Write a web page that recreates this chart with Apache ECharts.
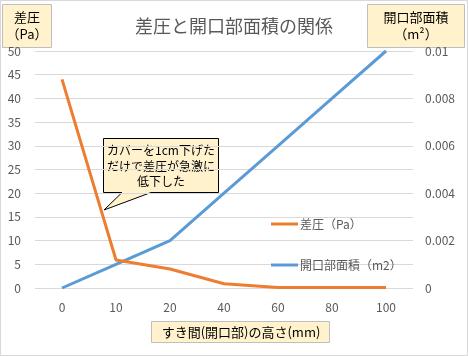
<!DOCTYPE html>
<html><head><meta charset="utf-8">
<script src="https://cdn.jsdelivr.net/npm/echarts@6/dist/echarts.min.js"></script>
<style>html,body{margin:0;padding:0;background:#fff}#c{width:468px;height:356px;box-sizing:border-box;border:1px solid #d9d9d9}</style>
</head><body><div id="c"></div>
<script>
const categories = ['0','10','20','40','60','80','100'];
const pressure = [44, 5.9, 4, 0.9, 0.1, 0.1, 0.1];
const area = [0, 0.001, 0.002, 0.004, 0.006, 0.008, 0.01];
const leftTicks = {min:0, max:50, interval:5};
const rightTicks = {min:0, max:0.01, interval:0.002};
const F = '"Noto Sans CJK JP", "Noto Sans", sans-serif';
const chart = echarts.init(document.getElementById('c'));
function box(x,y,w,h,lines,cx,ys,size){
  const el=[{type:'rect',shape:{x:x,y:y,width:w,height:h},style:{fill:'#fff2cc',stroke:'#bfbfbf',lineWidth:1}}];
  lines.forEach((t,i)=>el.push({type:'text',x:cx,y:ys[i],style:{text:t,font:size+'px '+F,fill:'#000',align:'center',verticalAlign:'middle'}}));
  return el;
}
const graphics = [].concat(
  box(1.5,3.5,49,43,['差圧','（Pa）'],26,[16,33],13),
  box(366.5,3.5,97,43,['開口部面積','（m²）'],415,[16,33],13),
  box(150.5,320.5,178,21,['すき間(開口部)の高さ(mm)'],240,[331],13),
  [{type:'polygon',shape:{points:[[102.5,137.5],[217.5,137.5],[217.5,191.5],[150,191.5],[103,209],[121,191.5],[102.5,191.5]]},style:{fill:'#fff2cc',stroke:'#000',lineWidth:1}},
   {type:'text',x:160,y:149,style:{text:'カバーを1cm下げた',font:'12px '+F,fill:'#000',align:'center',verticalAlign:'middle'}},
   {type:'text',x:160,y:165,style:{text:'だけで差圧が急激に',font:'12px '+F,fill:'#000',align:'center',verticalAlign:'middle'}},
   {type:'text',x:160,y:180,style:{text:'低下した',font:'12px '+F,fill:'#000',align:'center',verticalAlign:'middle'}}]
);
chart.setOption({
  animation:false,
  backgroundColor:'#fff',
  textStyle:{fontFamily:F},
  title:{text:'差圧と開口部面積の関係',left:'center',top:11,textStyle:{fontSize:18,fontWeight:'normal',color:'#595959',fontFamily:F}},
  legend:{orient:'vertical',left:265,top:212,icon:'rect',itemWidth:27,itemHeight:3,itemGap:29,
    textStyle:{fontSize:12,color:'#595959',fontFamily:F,padding:[0,0,0,-3]},
    data:['差圧（Pa）','開口部面積（m2）']},
  grid:{left:34,right:54,top:50,bottom:67},
  xAxis:{type:'category',data:categories,boundaryGap:true,
    axisLine:{show:false},axisTick:{show:false},
    axisLabel:{color:'#595959',fontSize:12,margin:13}},
  yAxis:[
    {type:'value',min:leftTicks.min,max:leftTicks.max,interval:leftTicks.interval,
      axisLine:{show:false},axisTick:{show:false},
      axisLabel:{color:'#595959',fontSize:12,margin:14},
      splitLine:{lineStyle:{color:'#d9d9d9'}}},
    {type:'value',min:rightTicks.min,max:rightTicks.max,interval:rightTicks.interval,
      axisLine:{show:false},axisTick:{show:false},
      axisLabel:{color:'#595959',fontSize:12,margin:12},
      splitLine:{show:false}}
  ],
  series:[
    {name:'差圧（Pa）',type:'line',data:pressure,yAxisIndex:0,showSymbol:false,symbol:'none',
      lineStyle:{color:'#ED7D31',width:3},itemStyle:{color:'#ED7D31'},z:3},
    {name:'開口部面積（m2）',type:'line',data:area,yAxisIndex:1,showSymbol:false,symbol:'none',
      lineStyle:{color:'#5B9BD5',width:3},itemStyle:{color:'#5B9BD5'},z:2}
  ],
  graphic:graphics
});
</script></body></html>
